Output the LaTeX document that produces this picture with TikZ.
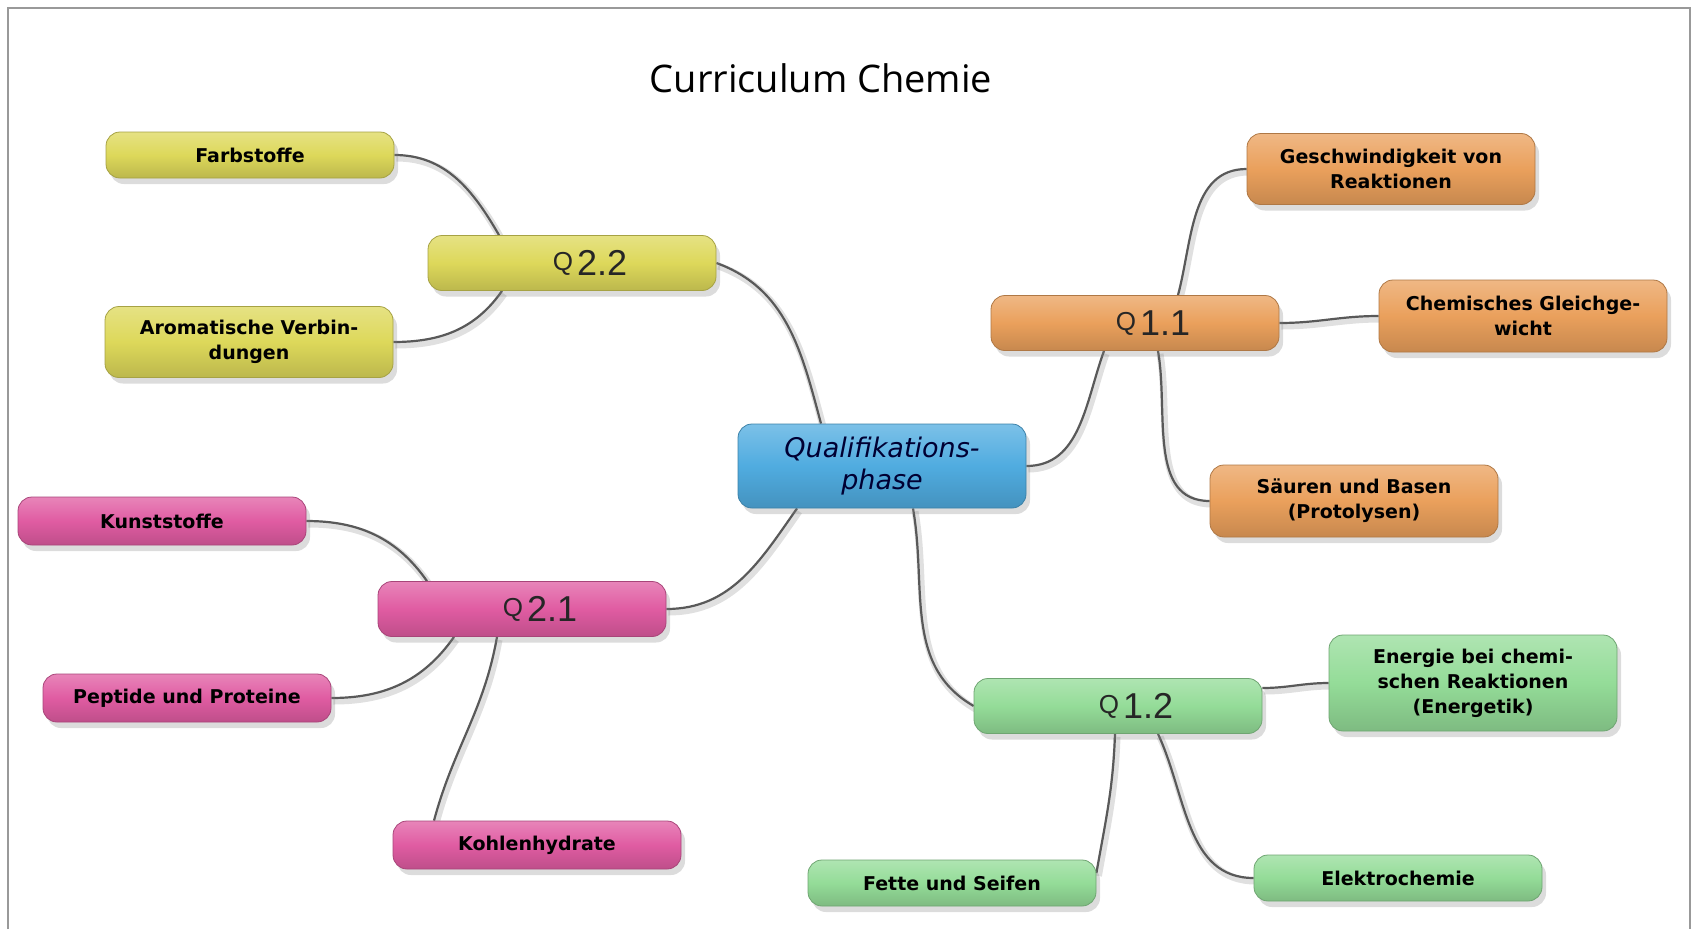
\documentclass[tikz,border=0pt]{standalone}
\usepackage{fontspec}
\setmainfont{DejaVu Sans}
\newfontfamily\titlefont{Open Sans}
\newfontfamily\qfont{Liberation Sans}
\usetikzlibrary{shadows,backgrounds}

\definecolor{yel}{RGB}{221,216,90}
\definecolor{ora}{RGB}{234,160,92}
\definecolor{blu}{RGB}{80,172,224}
\definecolor{pin}{RGB}{224,92,162}
\definecolor{gre}{RGB}{148,220,152}

\newcommand\qlabel[1]{\hspace*{36pt}\raisebox{5pt}{\fontsize{26}{26}\selectfont Q}\hspace{4pt}{\fontsize{36}{36}\selectfont #1}}

\begin{document}
\begin{tikzpicture}[x=1pt,y=-1pt,
  box/.style={rounded corners=14pt, minimum width=288pt, inner sep=0pt, align=center,
    draw=#1!75!black, line width=0.8pt, top color=#1!75!white, bottom color=#1!85!black, middle color=#1,
    drop shadow={shadow xshift=4pt, shadow yshift=-6pt, opacity=0.28}},
  leaf/.style={box=#1, font=\fontsize{19}{25}\selectfont\bfseries},
  hub/.style={box=#1, minimum height=55pt, font=\qfont, text=black!85},
  link/.style={draw=black!65, line width=2.2pt,
    preaction={draw=black!12, line width=7pt, transform canvas={shift={(2pt,-3pt)}}}}]
\useasboundingbox (0,0) rectangle (1694,929);
\draw[black!40, line width=2.4pt] (8,929) -- (8,8) -- (1690,8) -- (1690,929);

%Title
\node (title) at (821,78) {\titlefont\fontsize{38}{38}\selectfont Curriculum Chemie};

%Centre
\node (qual) at (882,466) [box=blu, minimum height=84pt, text=black!80!blue, font=\fontsize{27}{32}\selectfont\itshape] {\raisebox{-4pt}{Qualifikations-}\\\raisebox{-4pt}{phase}};

%Q 2.2
\node (q22) at (572,263) [hub=yel] {\qlabel{2.2}};
\node (farb) at (250,155) [leaf=yel, minimum height=46pt] {Farbstoffe};
\node (arom) at (249,342) [leaf=yel, minimum height=71pt] {Aromatische Verbin-\\dungen};

%Q 1.1
\node (q11) at (1135,323) [hub=ora] {\qlabel{1.1}};
\node (gesch) at (1391,169) [leaf=ora, minimum height=71pt] {Geschwindigkeit von\\Reaktionen};
\node (gleich) at (1523,316) [leaf=ora, minimum height=72pt] {Chemisches Gleichge-\\wicht};
\node (saeur) at (1354,501) [leaf=ora, minimum height=72pt] {Säuren und Basen\\(Protolysen)};

%Q 1.2
\node (q12) at (1118,706) [hub=gre] {\qlabel{1.2}};
\node (energ) at (1473,683) [leaf=gre, minimum height=96pt] {Energie bei chemi-\\schen Reaktionen\\(Energetik)};
\node (fette) at (952,883) [leaf=gre, minimum height=46pt] {Fette und Seifen};
\node (elek) at (1398,878) [leaf=gre, minimum height=46pt] {Elektrochemie};

%Q 2.1
\node (q21) at (522,609) [hub=pin] {\qlabel{2.1}};
\node (kunst) at (162,521) [leaf=pin, minimum height=48pt] {Kunststoffe};
\node (pept) at (187,698) [leaf=pin, minimum height=48pt] {Peptide und Proteine};
\node (kohl) at (537,845) [leaf=pin, minimum height=48pt] {Kohlenhydrate};

\begin{pgfonlayer}{background}
\draw[link] (farb.east) to[out=0,in=120] ([xshift=-73pt]q22.north);
\draw[link] ([xshift=-70pt]q22.south) to[out=235,in=0] (arom.east);
\draw[link] (q22.east) to[out=-20,in=105] ([xshift=-61pt]qual.north);
\draw[link] (qual.east) to[out=0,in=250] ([xshift=-31pt]q11.south);
\draw[link] ([xshift=43pt]q11.north) to[out=75,in=180] (gesch.west);
\draw[link] (q11.east) to[out=0,in=180] (gleich.west);
\draw[link] ([xshift=23pt]q11.south) to[out=280,in=180] (saeur.west);
\draw[link] ([xshift=31pt]qual.south) to[out=280,in=150] (q12.west);
\draw[link] ([yshift=18pt]q12.east) to[out=0,in=180] (energ.west);
\draw[link] ([xshift=-3pt]q12.south) to[out=268,in=80] ([yshift=10pt]fette.east);
\draw[link] ([xshift=40pt]q12.south) to[out=295,in=180] (elek.west);
\draw[link] ([xshift=-85pt]qual.south) to[out=235,in=0] (q21.east);
\draw[link] (kunst.east) to[out=0,in=125] ([xshift=-95pt]q21.north);
\draw[link] ([xshift=-68pt]q21.south) to[out=235,in=0] (pept.east);
\draw[link] ([xshift=-25pt]q21.south) to[out=260,in=75] ([xshift=-103pt]kohl.north);
\end{pgfonlayer}
\end{tikzpicture}
\end{document}
